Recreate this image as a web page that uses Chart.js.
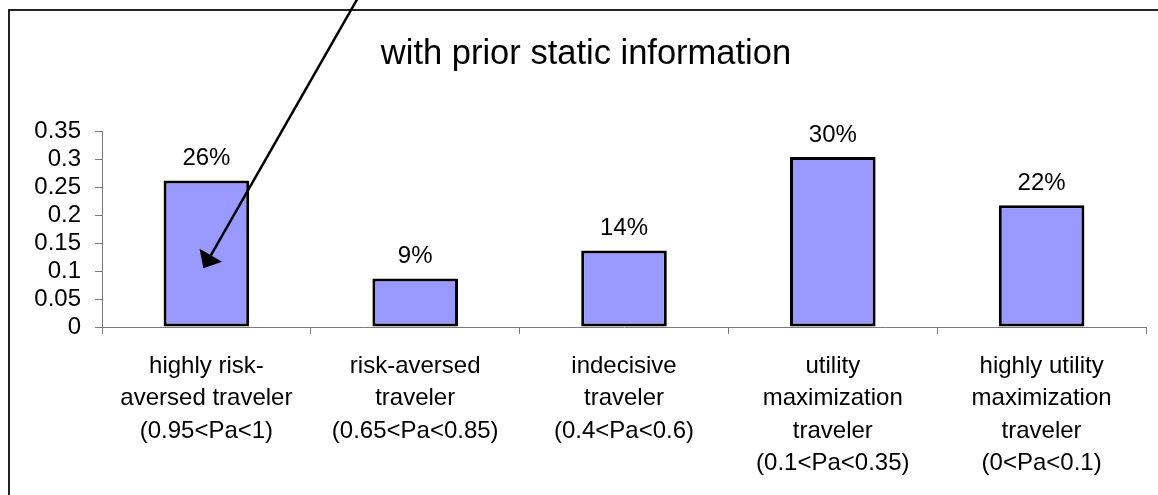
<!DOCTYPE html>
<html>
<head>
<meta charset="utf-8">
<title>Traveler types with prior static information</title>
<script src="https://cdn.jsdelivr.net/npm/chart.js@4/dist/chart.umd.min.js"></script>
<style>
  html, body { margin: 0; padding: 0; background: #ffffff; }
  #wrap { position: relative; width: 1158px; height: 495px; }
</style>
</head>
<body>
<div id="wrap"><canvas id="chart"></canvas></div>
<script>
// Traveler categories (multi-line axis labels)
const categories = [
  ['highly risk-', 'aversed traveler', '(0.95<Pa<1)'],
  ['risk-aversed', 'traveler', '(0.65<Pa<0.85)'],
  ['indecisive', 'traveler', '(0.4<Pa<0.6)'],
  ['utility', 'maximization', 'traveler', '(0.1<Pa<0.35)'],
  ['highly utility', 'maximization', 'traveler', '(0<Pa<0.1)']
];

// Share of travelers in each category
const shares = [0.262, 0.087, 0.137, 0.304, 0.218];

// Value axis range
const yMin = 0;
const yMax = 0.35;
const yStep = 0.05;

// Callout arrow: tip sits inside the first bar
const arrowTip = { category: 0, value: 0.105 };

const FONT = '"Liberation Sans", Arial, Helvetica, sans-serif';
const AXIS_GRAY = '#7a7a7a';

const pctLabel = v => Math.round(v * 100) + '%';

// Percentage labels above each bar
const valueLabels = {
  id: 'valueLabels',
  afterDatasetsDraw(chart) {
    const ctx = chart.ctx;
    const meta = chart.getDatasetMeta(0);
    const data = chart.data.datasets[0].data;
    ctx.save();
    ctx.font = '24px ' + FONT;
    ctx.fillStyle = '#000';
    ctx.textAlign = 'center';
    ctx.textBaseline = 'middle';
    meta.data.forEach((bar, i) => {
      ctx.fillText(pctLabel(data[i]), bar.x, bar.y - 22);
    });
    ctx.restore();
  }
};

// Outer frame of the chart (left and top edges)
const frame = {
  id: 'frame',
  beforeDraw(chart) {
    const ctx = chart.ctx;
    ctx.save();
    ctx.strokeStyle = '#222';
    ctx.lineWidth = 2;
    ctx.beginPath();
    ctx.moveTo(9, chart.height);
    ctx.lineTo(9, 10);
    ctx.lineTo(chart.width, 10);
    ctx.stroke();
    ctx.restore();
  }
};

// Callout arrow pointing into the first bar
const callout = {
  id: 'callout',
  afterDraw(chart) {
    const ctx = chart.ctx;
    const xs = chart.scales.x, ys = chart.scales.y;
    const tipX = xs.getPixelForValue(arrowTip.category) - 3;
    const tipY = ys.getPixelForValue(arrowTip.value);
    const tailX = tipX + 160, tailY = tipY - 280;
    const ang = Math.atan2(tipY - tailY, tipX - tailX);
    const headLen = 15, headHalf = 13;
    const bx = tipX - headLen * Math.cos(ang), by = tipY - headLen * Math.sin(ang);
    ctx.save();
    ctx.strokeStyle = '#000';
    ctx.fillStyle = '#000';
    ctx.lineWidth = 2.5;
    ctx.beginPath();
    ctx.moveTo(tailX, tailY);
    ctx.lineTo(bx, by);
    ctx.stroke();
    ctx.beginPath();
    ctx.moveTo(tipX, tipY);
    ctx.lineTo(bx + headHalf * Math.sin(ang), by - headHalf * Math.cos(ang));
    ctx.lineTo(bx - headHalf * Math.sin(ang), by + headHalf * Math.cos(ang));
    ctx.closePath();
    ctx.fill();
    ctx.restore();
  }
};

new Chart(document.getElementById('chart'), {
  type: 'bar',
  data: {
    labels: categories,
    datasets: [{
      data: shares,
      backgroundColor: '#9999ff',
      borderColor: '#000000',
      borderWidth: 3,
      borderSkipped: false,
      categoryPercentage: 1,
      barPercentage: 0.41
    }]
  },
  options: {
    responsive: true,
    maintainAspectRatio: false,
    animation: false,
    layout: { padding: { left: 26, right: 12, top: 0, bottom: 18 } },
    plugins: {
      legend: { display: false },
      tooltip: { enabled: false },
      title: {
        display: true,
        text: 'with prior static information',
        color: '#000',
        font: { family: FONT, size: 34.5, weight: 'normal', lineHeight: 1.2 },
        padding: { top: 34, bottom: 56 }
      }
    },
    scales: {
      x: {
        offset: true,
        afterFit(scale) { scale.height = 150; },
        grid: {
          offset: true,
          drawOnChartArea: false,
          drawTicks: true,
          tickLength: 7,
          color: AXIS_GRAY,
          lineWidth: 1
        },
        border: { display: true, color: AXIS_GRAY, width: 1 },
        ticks: {
          color: '#000',
          padding: 16,
          maxRotation: 0,
          autoSkip: false,
          font: { family: FONT, size: 24, lineHeight: 1.35 }
        }
      },
      y: {
        min: yMin,
        max: yMax,
        afterFit(scale) { scale.width = 76; },
        grid: {
          drawOnChartArea: false,
          drawTicks: true,
          tickLength: 7,
          color: AXIS_GRAY,
          lineWidth: 1
        },
        border: { display: true, color: AXIS_GRAY, width: 1 },
        ticks: {
          stepSize: yStep,
          autoSkip: false,
          color: '#000',
          padding: 14,
          font: { family: FONT, size: 24 },
          callback: v => String(+v.toFixed(2))
        }
      }
    }
  },
  plugins: [frame, valueLabels, callout]
});
</script>
</body>
</html>
